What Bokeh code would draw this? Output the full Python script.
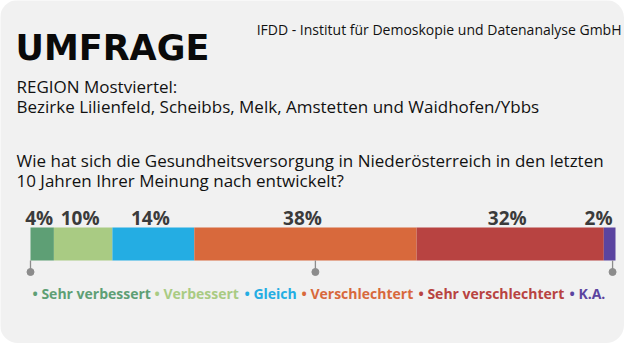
from bokeh.plotting import figure
from bokeh.models import Range1d, ColumnDataSource, Label
from bokeh.core.properties import value
from bokeh.embed import file_html
from bokeh.resources import INLINE

# ---- data ----
categories = ["Sehr verbessert", "Verbessert", "Gleich", "Verschlechtert", "Sehr verschlechtert", "K.A."]
values = [4, 10, 14, 38, 32, 2]
colors = ["#5e9f75", "#a9cb83", "#24ade3", "#d8693c", "#b84341", "#5b44a0"]
tick_values = [0, 48.7, 99.5]

title = "UMFRAGE"
source_text = "IFDD - Institut für Demoskopie und Datenanalyse GmbH"
region_lines = ["REGION Mostviertel:", "Bezirke Lilienfeld, Scheibbs, Melk, Amstetten und Waidhofen/Ybbs"]
question_lines = ["Wie hat sich die Gesundheitsversorgung in Niederösterreich in den letzten",
                  "10 Jahren Ihrer Meinung nach entwickelt?"]

# ---- layout ----
W, H = 624, 343
bar_left_px, bar_right_px = 30, 615
px_per = (bar_right_px - bar_left_px) / 100.0
x_start = -bar_left_px / px_per
x_end = 100 + (W - bar_right_px) / px_per

def px(xp):
    return x_start + xp / px_per

BG = "#f1f1f1"
FONT = "Open Sans"

p = figure(width=W, height=H, output_backend="svg", toolbar_location=None,
           x_range=Range1d(x_start, x_end), y_range=Range1d(H, 0),
           x_axis_location=None, y_axis_location=None,
           min_border=0, min_border_left=0, min_border_right=0,
           min_border_top=0, min_border_bottom=0,
           background_fill_color=BG, border_fill_color=BG, outline_line_color=None)
p.grid.visible = False
p.styles = {"border-radius": "18px", "overflow": "hidden"}

# stacked bar
lefts, rights = [], []
acc = 0
for v in values:
    lefts.append(acc)
    acc += v
    rights.append(acc)
centers = [(l + r) / 2 for l, r in zip(lefts, rights)]
bar_top, bar_bottom = 227, 260
bar_y, bar_h = (bar_top + bar_bottom) / 2, bar_bottom - bar_top
src = ColumnDataSource(dict(left=lefts, right=rights, color=colors, cat=categories))
p.hbar(y=bar_y, height=bar_h, left="left", right="right", color="color", source=src, line_width=0)

# percent labels
aligns = ["center"] * (len(values) - 1) + ["right"]
lab_x = centers[:-1] + [rights[-1]]
lsrc = ColumnDataSource(dict(x=lab_x, label=[f"{v}%" for v in values], align=aligns))
p.text(x="x", y=217.5, text="label", source=lsrc, text_align="align", text_baseline="alphabetic",
       text_font=value(FONT), text_font_style="bold", text_font_size="19px",
       text_color="#3b3b3b", x_offset=-3)

# ticks below bar
tsrc = ColumnDataSource(dict(x=tick_values))
p.segment(x0="x", x1="x", y0=bar_bottom, y1=271.5, source=tsrc, line_color="#8c8c8c", line_width=1.3)
p.scatter(x="x", y=271.5, size=7, source=tsrc, color="#8c8c8c")

# legend as coloured text
leg_x_px = [32, 154, 244, 301, 418, 569]
legsrc = ColumnDataSource(dict(x=[px(v) for v in leg_x_px], text=["• " + c for c in categories], color=colors))
p.text(x="x", y=292.5, text="text", text_color="color", source=legsrc,
       text_font=value(FONT), text_font_style="bold", text_font_size="14px",
       text_baseline="alphabetic", text_align="left")

# titles
p.add_layout(Label(x=px(15), y=47, text=title, text_font="DejaVu Sans", text_font_style="bold",
                   text_font_size="35px", text_color="#0a0a0a", text_baseline="alphabetic"))
p.add_layout(Label(x=px(621), y=29, text=source_text, text_font=FONT, text_font_size="14px",
                   text_color="#111111", text_align="right", text_baseline="alphabetic"))
for i, t in enumerate(region_lines):
    p.add_layout(Label(x=px(16), y=86 + i * 19.5, text=t, text_font=FONT, text_font_size="17px",
                       text_color="#111111", text_baseline="alphabetic"))
for i, t in enumerate(question_lines):
    p.add_layout(Label(x=px(16), y=159.7 + i * 20, text=t, text_font=FONT, text_font_size="17px",
                       text_color="#111111", text_baseline="alphabetic"))

open("out.html", "w").write(file_html(p, INLINE))
